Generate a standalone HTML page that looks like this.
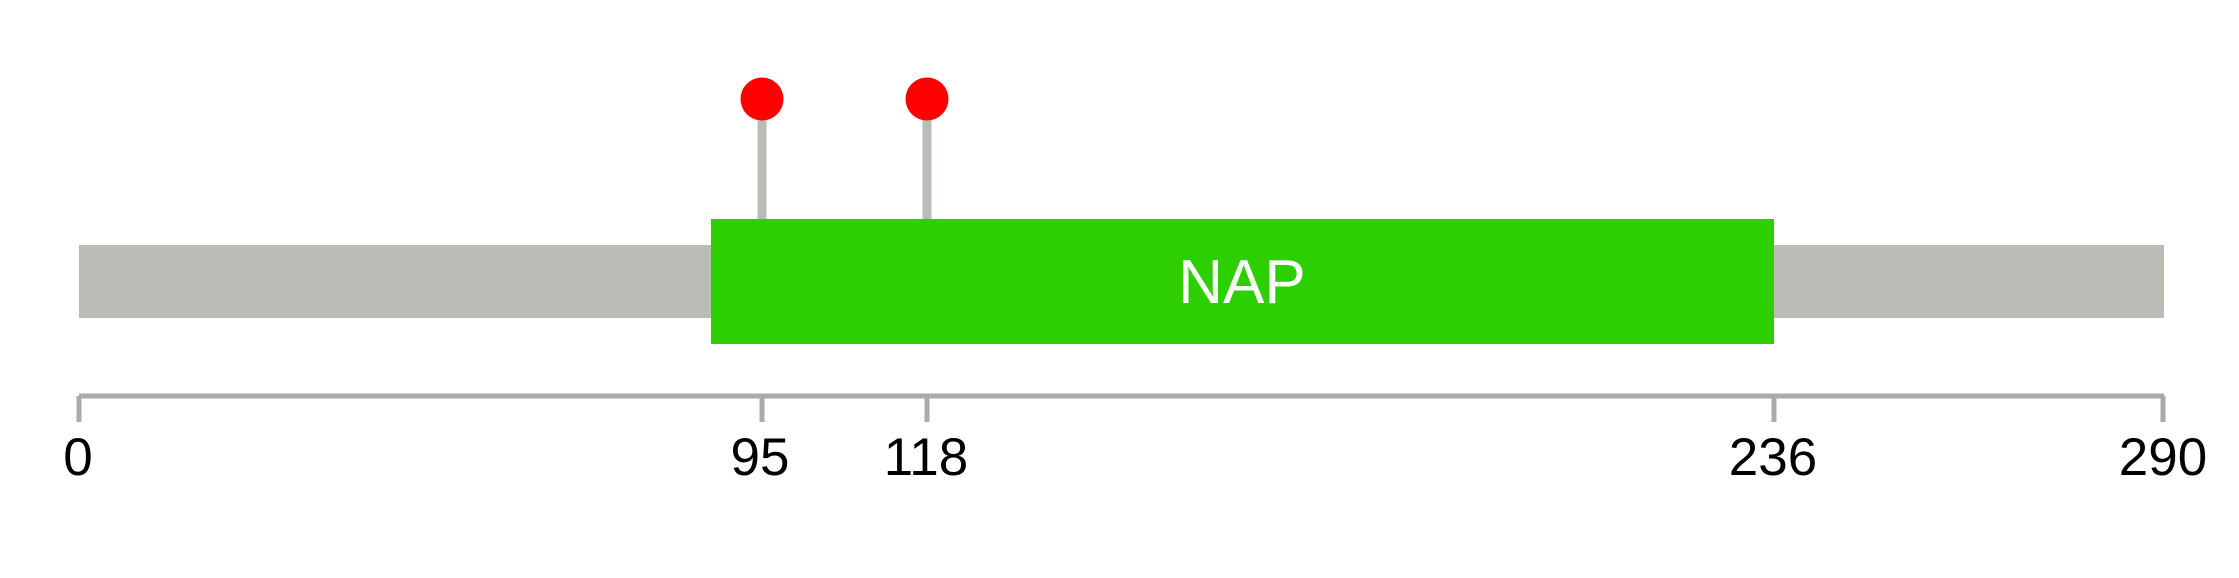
<!DOCTYPE html>
<html><head><style>html,body{margin:0;padding:0;background:#fff}</style></head>
<body>
<svg width="2239" height="578" xmlns="http://www.w3.org/2000/svg" style="display:block">
<rect x="0" y="0" width="2239" height="578" fill="#fff"/>
<rect x="79" y="245" width="2085" height="73" fill="#babdb6"/>
<line x1="762" y1="99" x2="762" y2="220" stroke="#babdb6" stroke-width="9"/>
<line x1="927" y1="99" x2="927" y2="220" stroke="#babdb6" stroke-width="9"/>
<circle cx="762" cy="99" r="21.5" fill="#ff0000"/>
<circle cx="927" cy="99" r="21.5" fill="#ff0000"/>
<rect x="711" y="219" width="1063" height="125" fill="#2ecf00"/>
<text x="1242" y="303" font-family="Liberation Sans, sans-serif" font-size="62" fill="#fff" text-anchor="middle">NAP</text>
<line x1="79" y1="396" x2="2164" y2="396" stroke="#aaaaaa" stroke-width="5"/>
<g stroke="#aaaaaa" stroke-width="5">
<line x1="79" y1="396" x2="79" y2="422"/>
<line x1="762" y1="396" x2="762" y2="422"/>
<line x1="927" y1="396" x2="927" y2="422"/>
<line x1="1774" y1="396" x2="1774" y2="422"/>
<line x1="2163" y1="396" x2="2163" y2="422"/>
</g>
<g font-family="Liberation Sans, sans-serif" font-size="53" fill="#000" text-anchor="middle">
<text x="78" y="475">0</text>
<text x="760" y="475">95</text>
<text x="926" y="475">118</text>
<text x="1773" y="475">236</text>
<text x="2163" y="475">290</text>
</g>
</svg>
</body></html>
